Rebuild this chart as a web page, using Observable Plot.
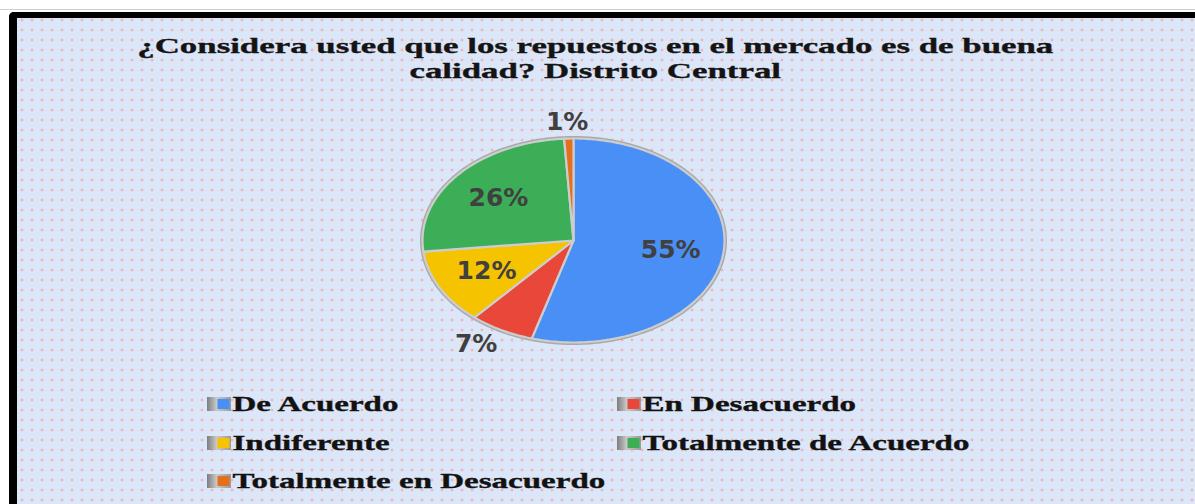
<!DOCTYPE html>
<html>
<head>
<meta charset="utf-8">
<script src="https://cdn.jsdelivr.net/npm/d3@7"></script>
<script src="https://cdn.jsdelivr.net/npm/@observablehq/plot@0.6"></script>
<style>
  html, body { margin: 0; padding: 0; background: #fff; width: 1195px; height: 504px; overflow: hidden; }
  #topline { position: absolute; left: 0; top: 9px; width: 1195px; height: 1px; background: #cfcfcf; }
  #frame {
    position: absolute; left: 9px; top: 12px; width: 1200px; height: 510px;
    border-left: 8px solid #000; border-top: 6px solid #000; border-top-left-radius: 5px;
    background-color: #dbe6f8;
    background-image: radial-gradient(circle, #f2b3b6 0, #f2b3b6 1.1px, rgba(242,179,182,0) 1.7px);
    background-size: 10px 10px;
    background-position: 0 -3px;
  }
  #title {
    position: absolute; left: 0; top: 33px; width: 1190px; text-align: center;
  }
  #title span {
    display: inline-block; font-family: "Liberation Serif", "Times New Roman", serif;
    font-weight: bold; font-size: 22px; line-height: 25px; color: #141414;
    -webkit-text-stroke: 0.35px #141414;
    transform-origin: 50% 0; white-space: nowrap;
  }
  #chart { position: absolute; left: 363px; top: 90px; }
  .item { position: absolute; height: 22px; transform: scaleX(1.5); transform-origin: 0 0; white-space: nowrap; }
  .item .ico { position: absolute; left: 0; top: 4px; width: 16px; height: 14px;
    background: linear-gradient(90deg, #7d7d7d 0, #c9c9c9 40%, #9a9a9a 100%); }
  .item .ico i { position: absolute; right: 1px; top: 2px; width: 8px; height: 10px; display: block; }
  .item .txt { position: absolute; left: 17px; top: 0; font-family: "Liberation Serif", "Times New Roman", serif;
    font-weight: bold; font-size: 22px; line-height: 22px; color: #121212; -webkit-text-stroke: 0.35px #121212; }
</style>
</head>
<body>
<div id="topline"></div>
<div id="frame"></div>
<div id="title"><span id="tspan">¿Considera usted que los repuestos en el mercado es de buena<br>calidad? Distrito Central</span></div>
<div id="chart"></div>
<div id="legend"></div>
<script>
const categories = ["De Acuerdo", "En Desacuerdo", "Indiferente", "Totalmente de Acuerdo", "Totalmente en Desacuerdo"];
const values = [55, 7, 12, 26, 1];
const labels = ["55%", "7%", "12%", "26%", "1%"];
const colors = ["#4a8ff5", "#e8473a", "#f6c300", "#3cae57", "#e2701f"];

// title horizontal stretch (to match the reference's wide lettering)
const ts = document.getElementById("tspan");
const w0 = ts.getBoundingClientRect().width;
ts.style.transform = `scaleX(${916 / w0})`;

// pie geometry from data
const arcs = d3.pie().sort(null).value(d => d)(values);
const pts = [];
arcs.forEach((a, i) => {
  pts.push({k: i, x: 0, y: 0});
  const n = Math.max(2, Math.ceil((a.endAngle - a.startAngle) / (Math.PI / 180)) + 1);
  for (let j = 0; j < n; j++) {
    const t = a.startAngle + (a.endAngle - a.startAngle) * j / (n - 1);
    pts.push({k: i, x: Math.sin(t), y: Math.cos(t)});
  }
  pts.push({k: i, x: 0, y: 0});
});
const labelData = arcs.map((a, i) => {
  const m = (a.startAngle + a.endAngle) / 2;
  const outside = values[i] < 10;
  const rx = outside ? 1.35 : 0.65, ry = outside ? 1.16 : 0.65;
  return {x: rx * Math.sin(m), y: ry * Math.cos(m), text: labels[i]};
});
const rim = d3.range(0, 361, 2).map(d => ({x: Math.sin(d * Math.PI / 180), y: Math.cos(d * Math.PI / 180)}));

const plot = Plot.plot({
  width: 420, height: 300,
  marginLeft: 59, marginRight: 59, marginTop: 48, marginBottom: 48,
  x: {domain: [-1, 1], axis: null},
  y: {domain: [-1, 1], axis: null},
  color: {type: "identity"},
  style: {background: "transparent", overflow: "visible"},
  marks: [
    Plot.line(rim, {x: "x", y: "y", stroke: "#a9a9a9", strokeWidth: 5}),
    Plot.line(pts, {x: "x", y: "y", z: "k", fill: d => colors[d.k], stroke: "#cdcdcd", strokeWidth: 2.2, strokeLinejoin: "round"}),
    Plot.text(labelData, {x: "x", y: "y", text: "text", fill: "#404040",
      fontFamily: "DejaVu Sans", fontWeight: "bold", fontSize: 25})
  ]
});
document.getElementById("chart").appendChild(plot);

// legend
const legend = document.getElementById("legend");
const pos = [[207, 393], [617, 393], [207, 431.5], [617, 431.5], [207, 470]];
categories.forEach((c, i) => {
  const d = document.createElement("div");
  d.className = "item";
  d.style.left = pos[i][0] + "px";
  d.style.top = pos[i][1] + "px";
  d.innerHTML = `<span class="ico"><i style="background:${colors[i]}"></i></span><span class="txt">${c}</span>`;
  legend.appendChild(d);
});
</script>
</body>
</html>
